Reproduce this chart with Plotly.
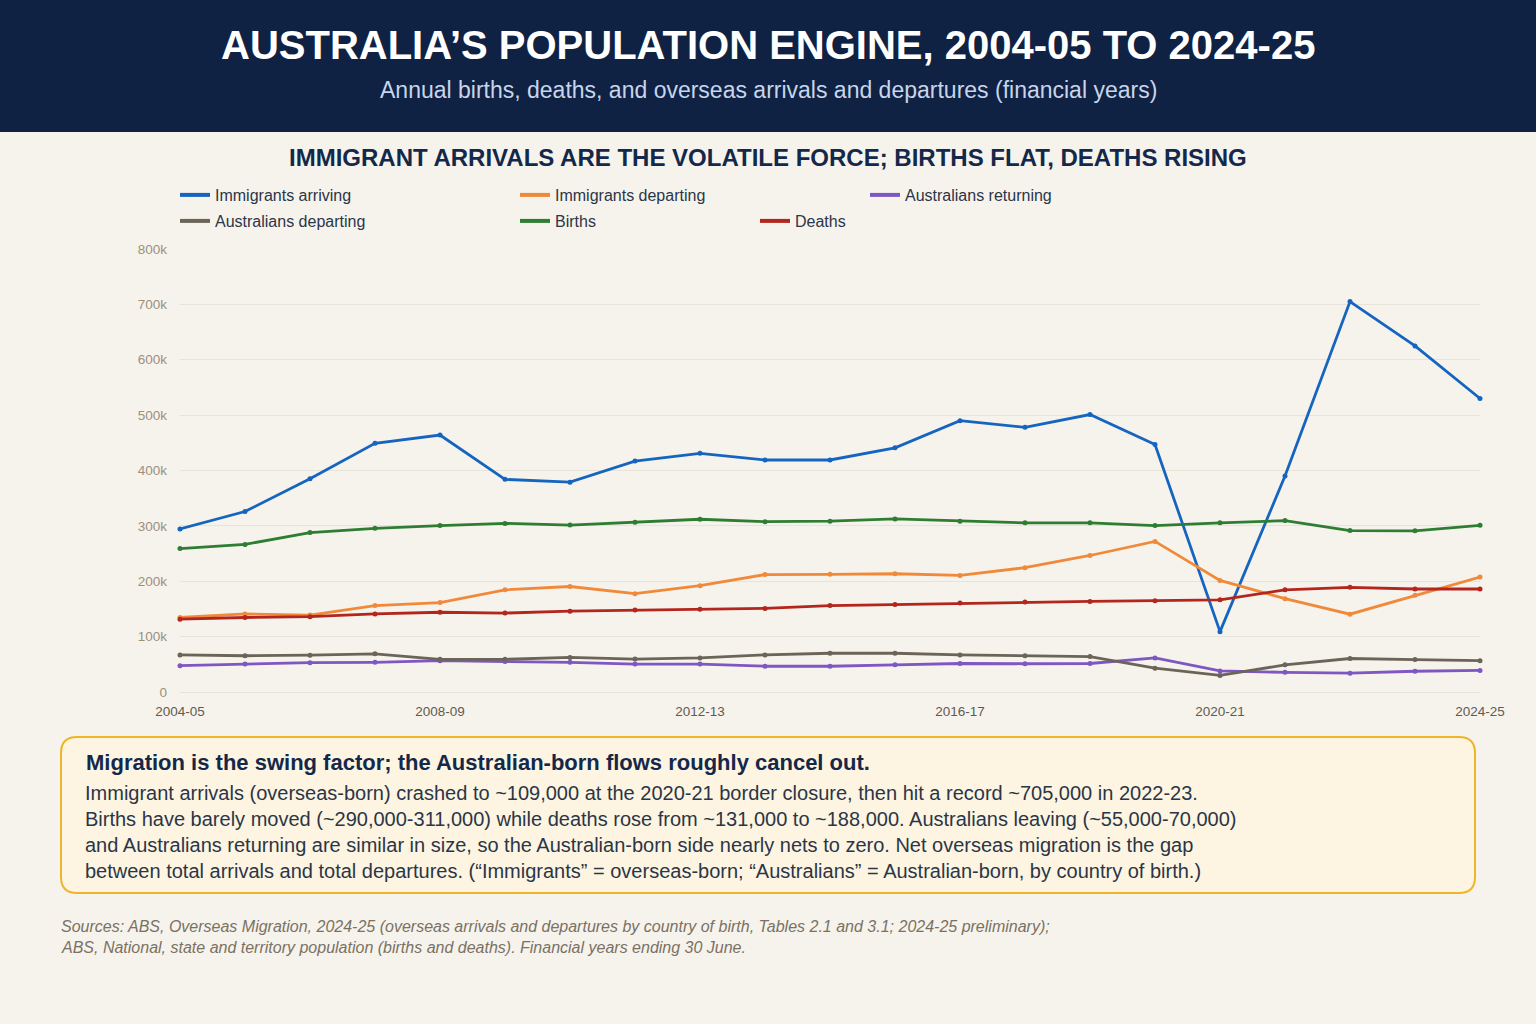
import plotly.graph_objects as go

years = ["2004-05", "2005-06", "2006-07", "2007-08", "2008-09", "2009-10", "2010-11",
         "2011-12", "2012-13", "2013-14", "2014-15", "2015-16", "2016-17", "2017-18",
         "2018-19", "2019-20", "2020-21", "2021-22", "2022-23", "2023-24", "2024-25"]

immigrants_arriving = [294500, 326000, 385000, 449000, 464000, 384000, 379000, 417000, 431000, 419000,
                       419000, 441000, 490000, 478000, 501000, 447000, 109000, 390000, 705000, 625000, 530000]
immigrants_departing = [134500, 141000, 139000, 156000, 161500, 184500, 190500, 177500, 192000, 212000,
                        212500, 213500, 210500, 224500, 246500, 272000, 201500, 168500, 140500, 174500, 207500]
australians_returning = [47500, 50500, 53000, 53500, 56500, 55000, 53500, 50500, 50500, 46500,
                         46500, 49000, 51500, 51000, 51500, 61500, 38000, 35500, 34000, 37500, 39000]
australians_departing = [67000, 65500, 66500, 69000, 59000, 59000, 62500, 59500, 61500, 67000,
                         70000, 70000, 67000, 65500, 64000, 43000, 30000, 49000, 60500, 58500, 56500]
births = [259000, 266500, 288000, 295500, 300500, 304500, 301500, 306500, 312000, 307500,
          308500, 312500, 308500, 305500, 305500, 300500, 305500, 309500, 291500, 291000, 301000]
deaths = [131500, 134500, 136000, 141000, 144000, 142500, 146000, 148000, 149500, 151000,
          156000, 158000, 160500, 162500, 163500, 165000, 166500, 184500, 189000, 186000, 186000]

series_names = ["Immigrants arriving", "Immigrants departing", "Australians returning",
                "Australians departing", "Births", "Deaths"]
series_values = [immigrants_arriving, immigrants_departing, australians_returning,
                 australians_departing, births, deaths]
series_colors = ["#1565c0", "#f08a3a", "#7e57c2", "#6b6458", "#2e7d32", "#b3261e"]

x_tick_labels = ["2004-05", "2008-09", "2012-13", "2016-17", "2020-21", "2024-25"]
y_tick_values = [0, 100000, 200000, 300000, 400000, 500000, 600000, 700000, 800000]
y_tick_labels = ["0", "100k", "200k", "300k", "400k", "500k", "600k", "700k", "800k"]

W, H = 1536, 1024
PL, PR, PT, PB = 180, 1480, 249, 692  # plot area in px

def px2x(px):
    return (px - PL) / (PR - PL)

def px2y(py):
    return (PB - py) / (PB - PT)

FONT = "Liberation Sans, Arial, Helvetica, sans-serif"
BG = "#f6f3ec"
NAVY = "#0f2244"

fig = go.Figure()

# legend positions (px) for each series
legend_pos = [(175, 195), (515, 195), (865, 195), (175, 221), (515, 221), (755, 221)]
legend_keys = ["legend", "legend2", "legend3", "legend4", "legend5", "legend6"]

for name, vals, col in zip(series_names, series_values, series_colors):
    fig.add_trace(go.Scatter(
        x=years, y=vals, name=name, mode="lines+markers",
        line=dict(color=col, width=2.8),
        marker=dict(color=col, size=5),
        showlegend=False, cliponaxis=False,
    ))

# legend entries (line swatches only)
for name, col, lk in zip(series_names, series_colors, legend_keys):
    fig.add_trace(go.Scatter(
        x=[None], y=[None], name=name, mode="lines",
        line=dict(color=col, width=4), legend=lk, showlegend=True,
    ))

layout_legends = {}
for lk, (lx, ly) in zip(legend_keys, legend_pos):
    layout_legends[lk] = dict(
        x=px2x(lx), y=px2y(ly), xanchor="left", yanchor="middle",
        bgcolor="rgba(0,0,0,0)", borderwidth=0,
        font=dict(family=FONT, size=16, color="#2b3548"),
        itemwidth=30, orientation="h",
    )

def rounded_rect(l, t, r, b, rad):
    pts = [
        f"M {px2x(l + rad)},{px2y(t)}",
        f"L {px2x(r - rad)},{px2y(t)}",
        f"Q {px2x(r)},{px2y(t)} {px2x(r)},{px2y(t + rad)}",
        f"L {px2x(r)},{px2y(b - rad)}",
        f"Q {px2x(r)},{px2y(b)} {px2x(r - rad)},{px2y(b)}",
        f"L {px2x(l + rad)},{px2y(b)}",
        f"Q {px2x(l)},{px2y(b)} {px2x(l)},{px2y(b - rad)}",
        f"L {px2x(l)},{px2y(t + rad)}",
        f"Q {px2x(l)},{px2y(t)} {px2x(l + rad)},{px2y(t)}",
        "Z",
    ]
    return " ".join(pts)

shapes = [
    dict(type="rect", xref="paper", yref="paper", x0=px2x(0), x1=px2x(W), y0=px2y(0), y1=px2y(132),
         fillcolor=NAVY, line=dict(width=0), layer="below"),
    dict(type="path", xref="paper", yref="paper", path=rounded_rect(61, 737, 1475, 893, 16),
         fillcolor="#fdf5e1", line=dict(color="#f0b429", width=2), layer="below"),
]

annotations = [
    dict(text="<b>AUSTRALIA’S POPULATION ENGINE, 2004-05 TO 2024-25</b>", x=px2x(768), y=px2y(45),
         font=dict(family=FONT, size=40, color="#ffffff")),
    dict(text="Annual births, deaths, and overseas arrivals and departures (financial years)",
         x=px2x(768), y=px2y(90), font=dict(family=FONT, size=23, color="#c8d5ea")),
    dict(text="<b>IMMIGRANT ARRIVALS ARE THE VOLATILE FORCE; BIRTHS FLAT, DEATHS RISING</b>",
         x=px2x(768), y=px2y(158), font=dict(family=FONT, size=24, color="#13284a")),
    dict(text="<b>Migration is the swing factor; the Australian-born flows roughly cancel out.</b>",
         x=px2x(84), y=px2y(762), xanchor="left", font=dict(family=FONT, size=22, color="#13284a")),
]

body_lines = [
    "Immigrant arrivals (overseas-born) crashed to ~109,000 at the 2020-21 border closure, then hit a record ~705,000 in 2022-23.",
    "Births have barely moved (~290,000-311,000) while deaths rose from ~131,000 to ~188,000. Australians leaving (~55,000-70,000)",
    "and Australians returning are similar in size, so the Australian-born side nearly nets to zero. Net overseas migration is the gap",
    "between total arrivals and total departures. (“Immigrants” = overseas-born; “Australians” = Australian-born, by country of birth.)",
]
for i, line in enumerate(body_lines):
    annotations.append(dict(text=line, x=px2x(83), y=px2y(793 + 26 * i), xanchor="left",
                            font=dict(family=FONT, size=20, color="#2b3548")))

source_lines = [
    "<i>Sources: ABS, Overseas Migration, 2024-25 (overseas arrivals and departures by country of birth, Tables 2.1 and 3.1; 2024-25 preliminary);</i>",
    "<i>ABS, National, state and territory population (births and deaths). Financial years ending 30 June.</i>",
]
for i, line in enumerate(source_lines):
    annotations.append(dict(text=line, x=px2x(59), y=px2y(926 + 21 * i), xanchor="left",
                            font=dict(family=FONT, size=16, color="#7a7163")))

for a in annotations:
    a.update(xref="paper", yref="paper", showarrow=False)
    a.setdefault("xanchor", "center")
    a.setdefault("yanchor", "middle")

fig.update_layout(
    width=W, height=H,
    margin=dict(l=PL, r=W - PR, t=PT, b=H - PB, pad=0, autoexpand=False),
    paper_bgcolor=BG, plot_bgcolor=BG,
    font=dict(family=FONT),
    showlegend=True,
    shapes=shapes,
    annotations=annotations,
    hovermode="x unified",
    **layout_legends,
)

fig.update_xaxes(
    type="category", range=[0, len(years) - 1],
    tickmode="array", tickvals=x_tick_labels, ticktext=x_tick_labels,
    showgrid=False, zeroline=False, showline=False, ticks="",
    ticklabelstandoff=9,
    tickfont=dict(family=FONT, size=13.5, color="#5f5a52"),
    automargin=False,
)
fig.update_yaxes(
    range=[0, 800000], tickmode="array", tickvals=y_tick_values, ticktext=y_tick_labels,
    showgrid=True, gridcolor="#e8e3d8", gridwidth=1, zeroline=True, zerolinecolor="#e8e3d8",
    zerolinewidth=1, showline=False, ticks="", ticklabelstandoff=12,
    tickfont=dict(family=FONT, size=13.5, color="#9b907e"),
    automargin=False,
)

fig.write_html("out.html", config={"displayModeBar": False},
               post_script="document.body.style.margin='0';document.body.style.overflow='hidden';")
